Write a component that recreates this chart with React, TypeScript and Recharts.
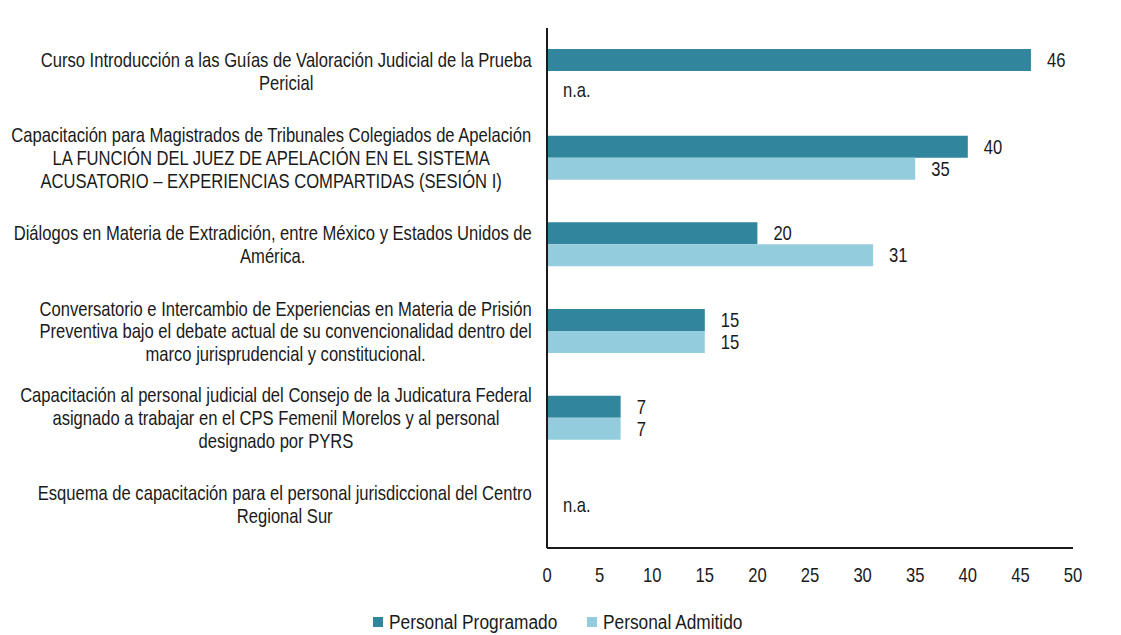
import React from "react";
import { BarChart, Bar, XAxis, YAxis, Legend, LabelList } from "recharts";

const categories: string[] = [
  "Curso Introducción a las Guías de Valoración Judicial de la Prueba\nPericial",
  "Capacitación para Magistrados de Tribunales Colegiados de Apelación\nLA FUNCIÓN DEL JUEZ DE APELACIÓN EN EL SISTEMA\nACUSATORIO – EXPERIENCIAS COMPARTIDAS (SESIÓN I)",
  "Diálogos en Materia de Extradición, entre México y Estados Unidos de\nAmérica.",
  "Conversatorio e Intercambio de Experiencias en Materia de Prisión\nPreventiva bajo el debate actual de su convencionalidad dentro del\nmarco jurisprudencial y constitucional.",
  "Capacitación al personal judicial del Consejo de la Judicatura Federal\nasignado a trabajar en el CPS Femenil Morelos y al personal\ndesignado por PYRS",
  "Esquema de capacitación para el personal jurisdiccional del Centro\nRegional Sur",
];
const programado: (number | null)[] = [46, 40, 20, 15, 7, null];
const admitido: (number | null)[] = [null, 35, 31, 15, 7, null];
const xTicks: number[] = [0, 5, 10, 15, 20, 25, 30, 35, 40, 45, 50];
const seriesNames = ["Personal Programado", "Personal Admitido"];
const naText = "n.a.";

const DARK = "#31859C";
const LIGHT = "#93CDDD";
const FONT = "'Liberation Sans', Arial, sans-serif";
const FS = 20;
const SX = 0.83;
const LSX = 0.865;
const TEXT = "#1a1a1a";
const BAR = 22;

const data = categories.map((c, i) => ({
  name: c,
  programado: programado[i] ?? 0,
  admitido: admitido[i] ?? 0,
}));

let ctx: CanvasRenderingContext2D | null = null;
function measure(s: string): number {
  if (!ctx) {
    const c = document.createElement("canvas");
    ctx = c.getContext("2d");
  }
  if (!ctx) return s.length * 9;
  ctx.font = `${FS}px ${FONT}`;
  return ctx.measureText(s).width;
}

// Narrow text: horizontally condensed
const NText = ({ x, y, anchor, children }: { x: number; y: number; anchor?: string; children: any }) => (
  <g transform={`translate(${x} ${y}) scale(${SX} 1)`}>
    <text x={0} y={0} dy="0.35em" textAnchor={anchor || "start"} fontFamily={FONT} fontSize={FS} fill={TEXT}>
      {children}
    </text>
  </g>
);

const YTick = (props: any) => {
  const { x, y, payload } = props;
  const idx = payload.index;
  const lines: string[] = String(payload.value).split("\n");
  const maxW = Math.max(...lines.map(measure)) * SX;
  const right = x - 7;
  const cx = right - maxW / 2;
  const lh = 22.7;
  const startY = y - ((lines.length - 1) * lh) / 2;
  const axisX = x + 8;
  const pv = programado[idx];
  const av = admitido[idx];
  let na: React.ReactNode = null;
  if (pv == null && av == null) {
    na = <NText x={axisX + 16} y={y}>{naText}</NText>;
  } else if (av == null) {
    na = <NText x={axisX + 16} y={y + BAR / 2 + 8}>{naText}</NText>;
  } else if (pv == null) {
    na = <NText x={axisX + 16} y={y - BAR / 2}>{naText}</NText>;
  }
  return (
    <g>
      {lines.map((l, i) => (
        <NText key={i} x={cx} y={startY + i * lh} anchor="middle">
          {l}
        </NText>
      ))}
      {na}
    </g>
  );
};

const XTick = (props: any) => {
  const { x, y, payload } = props;
  return (
    <NText x={x} y={y + 19} anchor="middle">
      {payload.value}
    </NText>
  );
};

const ValueLabel = (props: any) => {
  const { x, y, width, height, value } = props;
  if (value == null || value === 0) return null;
  return (
    <NText x={x + width + 16} y={y + height / 2}>
      {String(value)}
    </NText>
  );
};

const LegendContent = () => (
  <div
    style={{
      display: "flex",
      justifyContent: "center",
      alignItems: "center",
      fontFamily: FONT,
      fontSize: FS,
      color: TEXT,
      width: 1121,
      paddingRight: 4,
      boxSizing: "border-box",
      lineHeight: "22px",
    }}
  >
    {seriesNames.map((n, i) => (
      <div key={n} style={{ display: "flex", alignItems: "center", marginRight: i === 0 ? 30 : 0 }}>
        <span style={{ display: "inline-block", width: 10, height: 10, background: i === 0 ? DARK : LIGHT, marginRight: 6 }} />
        <span style={{ display: "inline-block", width: measure(n) * LSX, whiteSpace: "nowrap" }}>
          <span style={{ display: "inline-block", transform: `scaleX(${LSX})`, transformOrigin: "left center" }}>{n}</span>
        </span>
      </div>
    ))}
  </div>
);

export default function App() {
  return (
    <div style={{ position: "absolute", left: 0, top: 0, width: 1121, height: 635, background: "#fff" }}>
      <BarChart
        width={1121}
        height={635}
        data={data}
        layout="vertical"
        margin={{ top: 28, right: 48, left: 0, bottom: 47 }}
        barGap={0}
        barSize={BAR}
      >
        <XAxis
          type="number"
          domain={[0, 50]}
          ticks={xTicks}
          interval={0}
          tickLine={false}
          axisLine={{ stroke: TEXT, strokeWidth: 2 }}
          tick={<XTick />}
          height={40}
        />
        <YAxis
          type="category"
          dataKey="name"
          width={547}
          tickLine={false}
          axisLine={{ stroke: TEXT, strokeWidth: 2 }}
          tick={<YTick />}
          interval={0}
        />
        <Legend verticalAlign="middle" align="center" layout="horizontal" wrapperStyle={{ top: 611, left: 0 }} content={<LegendContent />} />
        <Bar dataKey="programado" name={seriesNames[0]} fill={DARK} isAnimationActive={false}>
          <LabelList dataKey="programado" content={<ValueLabel />} />
        </Bar>
        <Bar dataKey="admitido" name={seriesNames[1]} fill={LIGHT} isAnimationActive={false}>
          <LabelList dataKey="admitido" content={<ValueLabel />} />
        </Bar>
      </BarChart>
    </div>
  );
}
